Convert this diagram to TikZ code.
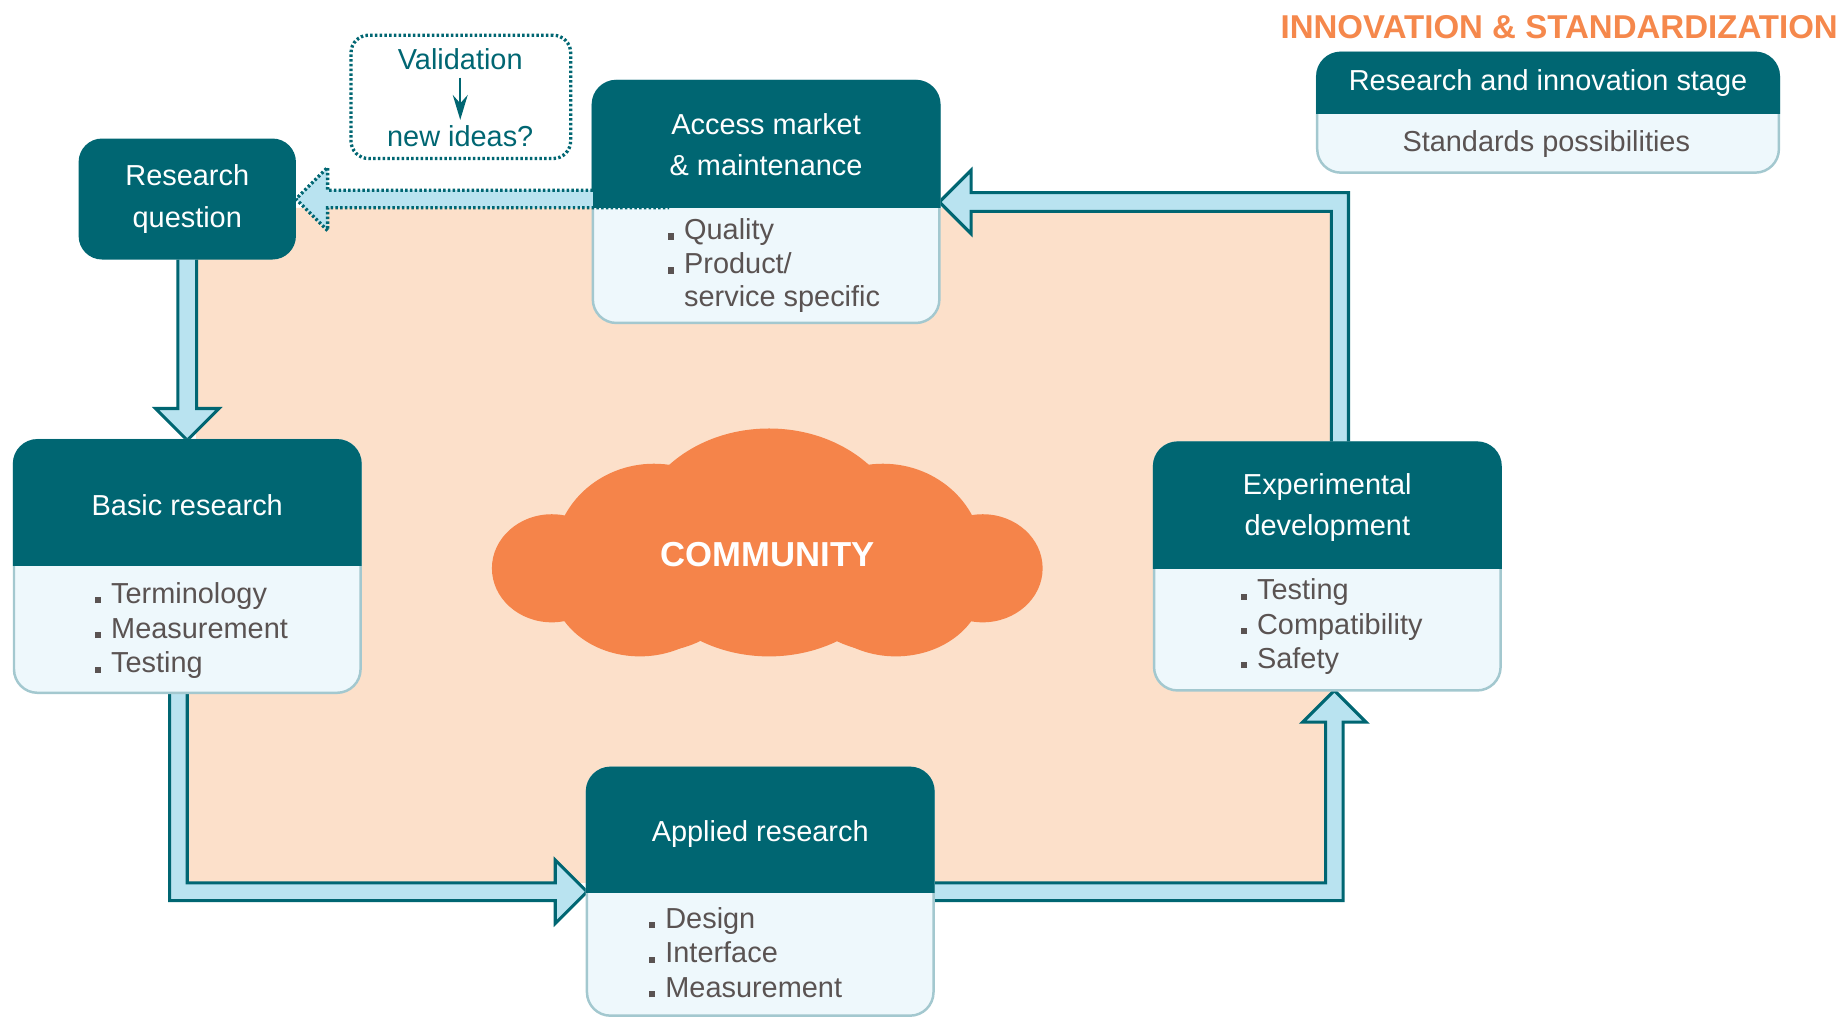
\documentclass[tikz,border=0pt]{standalone}
\usepackage{fontspec}
\setmainfont{Liberation Sans}
\usetikzlibrary{calc,arrows.meta}
\pgfdeclarelayer{bg}
\pgfsetlayers{bg,main}
\definecolor{tealD}{HTML}{006672}
\definecolor{bodyL}{HTML}{EEF8FC}
\definecolor{bodyB}{HTML}{A3C8CF}
\definecolor{arrF}{HTML}{B9E3F0}
\definecolor{peachBG}{HTML}{FCE0CA}
\definecolor{cloudO}{HTML}{F5844A}
\definecolor{titleO}{HTML}{F5884C}
\definecolor{itemG}{HTML}{5A5352}
\newcommand\bul{\makebox[3.98pt][l]{\rule{1.5pt}{1.5pt}}}
\tikzset{
 boxbody/.style={draw=bodyB, fill=bodyL, line width=0.6pt, rounded corners=0.2cm, outer sep=0pt, inner sep=0pt},
 headfill/.style={fill=tealD, draw=tealD, line width=0.6pt, rounded corners=0.2cm},
 headtext/.style={text=white, font=\fontsize{7.0}{9.96}\selectfont, align=center, inner sep=0pt},
 itemtext/.style={text=itemG, font=\fontsize{7.0}{8.4}\selectfont, inner sep=0pt, anchor=base west},
 blockarrow/.style={fill=arrF, draw=tealD, line width=0.75pt, line join=miter},
 dotline/.style={draw=tealD, line width=0.8pt, dash pattern=on 0.6pt off 0.55pt},
}
\newcommand\headerpart[5]{%
 \begin{scope}
 \clip ({#1-4},{#2-4}) rectangle ({#3+4},#4);
 \path[headfill] (#1,#2) rectangle (#3,#5);
 \end{scope}}
\begin{document}
\begin{tikzpicture}[x=0.01cm,y=-0.01cm]
\useasboundingbox (0,0) rectangle (1568,866);
\begin{pgfonlayer}{bg}
\fill[peachBG] (167,375) -- (167,205) -- (236,205) -- (236,177) -- (1135,177) -- (1135,752) -- (159,752) -- (159,375) -- cycle;
\end{pgfonlayer}

% cloud
\begin{scope}[cloudO]
\fill (655,462) ellipse [x radius=1.16cm, y radius=0.97cm];
\fill (557,475) ellipse [x radius=0.85cm, y radius=0.80cm];
\fill (752,475) ellipse [x radius=0.85cm, y radius=0.80cm];
\fill (470,484) ellipse [x radius=0.51cm, y radius=0.46cm];
\fill (837,484) ellipse [x radius=0.51cm, y radius=0.46cm];
\fill (545,497) ellipse [x radius=0.75cm, y radius=0.62cm];
\fill (763,497) ellipse [x radius=0.75cm, y radius=0.62cm];
\end{scope}
\node[font=\bfseries\fontsize{8.4}{10}\selectfont, text=white, inner sep=0pt] (community) at (654,472) {COMMUNITY};

% Research question
\node[fill=tealD, rounded corners=0.2cm, minimum width=1.85cm, minimum height=1.03cm, outer sep=0pt, headtext] (rq) at (159.5,169.5) {Research\\question};

% Access market
\node[boxbody, minimum width=2.95cm, minimum height=2.06cm] (access) at (652.5,172) {};
\headerpart{505}{69}{800}{177}{275}
\node[headtext] (access-t) at (652.5,123) {Access market\\\& maintenance};
\node[itemtext] (access-1) at (568,204) {\bul Quality};
\node[itemtext] (access-2) at (568,233) {\bul Product/};
\node[itemtext] (access-3) at (582,261) {service specific};

% Basic research
\node[boxbody, minimum width=2.95cm, minimum height=2.15cm] (basic) at (159.5,482.5) {};
\headerpart{12}{375}{307}{482}{590}
\node[headtext] (basic-t) at (159.5,430) {Basic research};
\node[itemtext] (basic-1) at (80,514) {\bul Terminology};
\node[itemtext] (basic-2) at (80,543.5) {\bul Measurement};
\node[itemtext] (basic-3) at (80,573) {\bul Testing};

% Experimental development
\node[boxbody, minimum width=2.95cm, minimum height=2.11cm] (exp) at (1130.5,482.5) {};
\headerpart{983}{377}{1278}{484}{588}
\node[headtext] (exp-t) at (1130.5,432.5) {Experimental\\development};
\node[itemtext] (exp-1) at (1056,511) {\bul Testing};
\node[itemtext] (exp-2) at (1056,540) {\bul Compatibility};
\node[itemtext] (exp-3) at (1056,569) {\bul Safety};

% Applied research
\node[boxbody, minimum width=2.95cm, minimum height=2.11cm] (applied) at (647.5,759.5) {};
\headerpart{500}{654}{795}{760}{865}
\node[headtext] (applied-t) at (647.5,710) {Applied research};
\node[itemtext] (applied-1) at (552,790.5) {\bul Design};
\node[itemtext] (applied-2) at (552,820) {\bul Interface};
\node[itemtext] (applied-3) at (552,849.5) {\bul Measurement};

% block arrows
\begin{pgfonlayer}{bg}
\draw[blockarrow] ($(rq.south)+(-8,0)$) -- ($(basic.north)+(-8,-27)$) -- ++(-19,0) -- (basic.north) -- ++(27,-27) -- ++(-19,0) -- ($(rq.south)+(8,0)$);
\draw[blockarrow] ($(basic.south)+(-15,0)$) |- ($(applied.west)+(-27,7.5)$) -- ++(0,19.5) -- (applied.west) -- ++(-27,-27) -- ++(0,19.5) -| (basic.south);
\draw[blockarrow] ($(applied.east)+(0,-7.5)$) -| ($(exp.south)+(-1.5,27)$) -- ++(-19.5,0) -- ($(exp.south)+(6,0)$) -- ++(27,27) -- ++(-19.5,0) |- ($(applied.east)+(0,7.5)$);
\draw[blockarrow] ($(exp.north)+(3.5,0)$) |- ($(access.east)+(27,8)$) -- ++(0,19) -- (access.east) -- ++(27,-27) -- ++(0,19) -| ($(exp.north)+(18,0)$);
\end{pgfonlayer}

% dotted arrow back to research question
\coordinate (dt) at ($(rq.east)+(27,-7.5)$);
\coordinate (db) at ($(rq.east)+(27,7.5)$);
\coordinate (da) at (access.west |- dt);
\coordinate (dc) at (access.west |- db);
\fill[arrF] (da) -- (dt) -- ++(0,-19.5) -- (rq.east) -- ++(27,27) -- ++(0,-19.5) -- (dc) -- cycle;
\draw[dotline] (da) -- (dt) -- ++(0,-19.5) -- (rq.east) -- ++(27,27) -- ++(0,-19.5) -- ($(dc)+(65,0)$);

% validation box
\node[dotline, rounded corners=0.15cm, minimum width=1.87cm, minimum height=1.05cm, outer sep=0pt] (val) at (392.5,82.5) {};
\node[text=tealD, font=\fontsize{7.0}{8.4}\selectfont, inner sep=0pt] (valt) at (392,50) {Validation};
\node[text=tealD, font=\fontsize{7.0}{8.4}\selectfont, inner sep=0pt] (newi) at (392,116) {new ideas?};
\draw[tealD, line width=0.6pt, -{Stealth[length=6pt,width=3.6pt,inset=2pt]}, shorten <=1.8pt, shorten >=1.2pt] (valt) -- (newi);

% legend
\node[anchor=base east, text=titleO, font=\bfseries\fontsize{8.0}{9}\selectfont, inner sep=0pt] (title) at (1566,33) {INNOVATION \& STANDARDIZATION};
\node[boxbody, minimum width=3.93cm, minimum height=1.02cm] (leg) at (1318.5,96) {};
\headerpart{1122}{45}{1515}{97}{147}
\node[headtext] (leg-t) at (1318.5,71) {Research and innovation stage};
\node[itemtext, anchor=base] (leg-b) at (1317,129) {Standards possibilities};
\end{tikzpicture}
\end{document}
